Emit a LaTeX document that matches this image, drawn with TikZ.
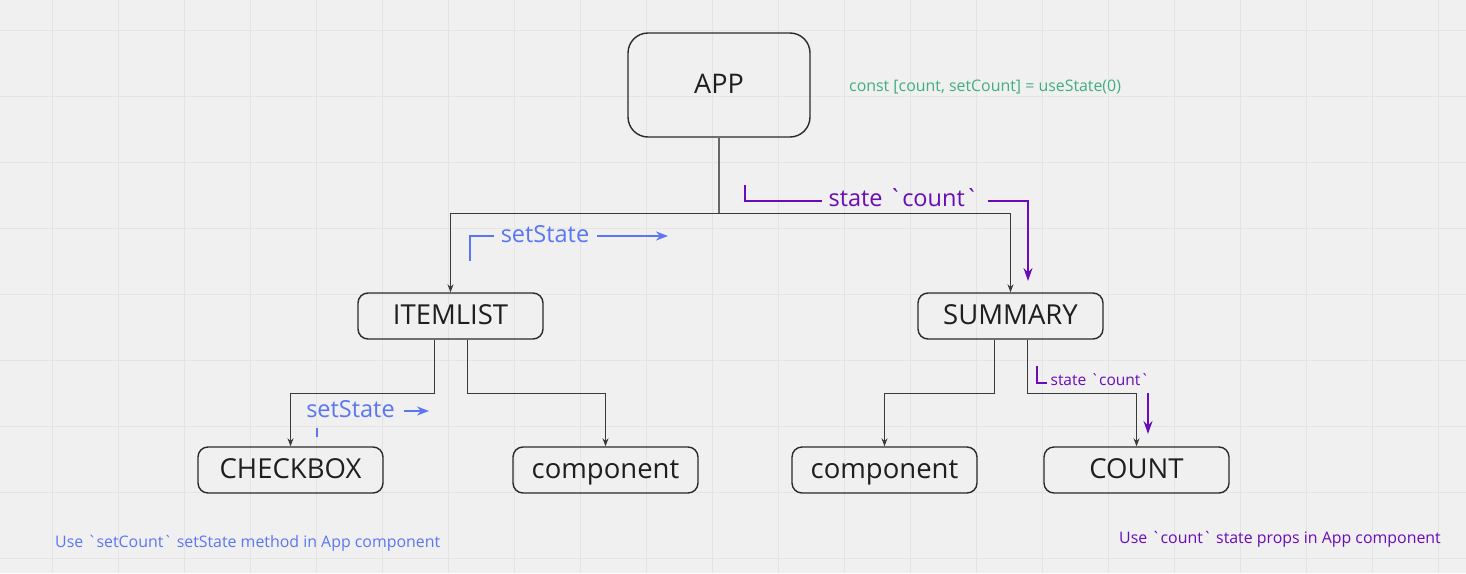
\documentclass[tikz,border=0pt]{standalone}
\usepackage{fontspec}
\setmainfont{Open Sans}[Ligatures=TeXOff]
\usetikzlibrary{arrows.meta}
\definecolor{bg}{HTML}{F0F0F0}
\definecolor{gridc}{HTML}{E4E4E4}
\definecolor{boxc}{HTML}{2A2A2A}
\definecolor{connc}{HTML}{3A3A3A}
\definecolor{greenc}{HTML}{3FAE80}
\definecolor{bluec}{HTML}{5B76F2}
\definecolor{purc}{HTML}{6A0CB8}
\tikzset{
  bigbox/.style={draw=boxc, line width=1.4pt, rounded corners=20pt, minimum width=182pt, minimum height=104pt, inner sep=0pt, text height=20pt, text depth=4pt, font=\fontsize{27}{30}\selectfont, text=black!88},
  compbox/.style={draw=boxc, line width=1.4pt, rounded corners=10pt, minimum width=185pt, minimum height=46pt, inner sep=0pt, text height=20pt, text depth=4pt, font=\fontsize{27.5}{30}\selectfont, text=black!88},
  conn/.style={draw=connc, line width=1pt, -{Stealth[length=8pt,width=6pt]}},
  trunk/.style={draw=black!60, line width=1.6pt},
  purline/.style={draw=purc, line width=2pt},
  purarrow/.style={draw=purc, line width=2pt, -{Stealth[length=13pt,width=9pt]}},
  blueline/.style={draw=bluec, line width=2pt},
  bluearrow/.style={draw=bluec, line width=2pt, -{Stealth[length=12pt,width=9pt]}},
  biglbl/.style={inner sep=0pt, font=\fontsize{23.5}{26}\selectfont},
  smalllbl/.style={inner sep=0pt, font=\fontsize{15.5}{18}\selectfont},
  note/.style={inner sep=0pt, anchor=west, font=\fontsize{15.9}{18}\selectfont}
}
\begin{document}
\begin{tikzpicture}[x=1pt,y=-1pt]
\fill[bg] (0,0) rectangle (1466,573);
\useasboundingbox (0,0) rectangle (1466,573);
% grid
\foreach \gx in {52,118,...,1450} {\draw[gridc, line width=1pt] (\gx,0) -- (\gx,573);}
\foreach \gy in {30,96,...,573} {\draw[gridc, line width=1pt] (0,\gy) -- (1466,\gy);}

% boxes
\node[bigbox] (app) at (719,85) {APP};
\node[compbox] (itemlist) at (450.5,316) {ITEMLIST};
\node[compbox] (summary) at (1010.5,316) {SUMMARY};
\node[compbox] (checkbox) at (290.5,470) {CHECKBOX};
\node[compbox] (comp1) at (605.5,470) {component};
\node[compbox] (comp2) at (884.5,470) {component};
\node[compbox] (count) at (1136.5,470) {COUNT};

% tree connectors
\draw[trunk] (app.south) -- ++(0,76) coordinate (junc);
\draw[conn] (junc) -| (itemlist.north);
\draw[conn] (junc) -| (summary.north);
\draw[conn] ([xshift=-16.5pt]itemlist.south) -- ++(0,54) -| (checkbox.north);
\draw[conn] ([xshift=16.5pt]itemlist.south) -- ++(0,54) -| (comp1.north);
\draw[conn] ([xshift=-16.5pt]summary.south) -- ++(0,54) -| (comp2.north);
\draw[conn] ([xshift=16.5pt]summary.south) -- ++(0,54) -| (count.north);

% green note
\node[note, text=greenc] (code) at (849,86.5) {const [count, setCount] = useState(0)};

% purple big state label
\node[biglbl, text=purc] (st1) at (903.5,198) {state `count`};
\coordinate (p1s) at (745,185);
\coordinate (p1e) at (1028,281);
\draw[purline] (p1s) |- ([xshift=-6pt,yshift=-3pt]st1.west);
\draw[purarrow] ([xshift=9pt,yshift=-3pt]st1.east) -| (p1e);

% blue setState upper
\node[biglbl, text=bluec] (ss1) at (545,234) {setState};
\coordinate (b1s) at (470,261);
\coordinate (b1e) at (668,236);
\draw[blueline] (b1s) |- ([xshift=-7pt,yshift=-2pt]ss1.west);
\draw[bluearrow] ([xshift=8pt,yshift=-2pt]ss1.east) -- (b1e);

% blue setState lower
\node[biglbl, text=bluec] (ss2) at (350.5,409) {setState};
\coordinate (b2e) at (429,411);
\draw[bluearrow] ([xshift=9pt,yshift=-2pt]ss2.east) -- (b2e);
\coordinate (t1) at (316.5,428);
\coordinate (t2) at (316.5,437);
\draw[blueline] (t1) -- (t2);

% purple small state label
\node[smalllbl, text=purc] (st2) at (1100,380) {state `count`};
\coordinate (p2s) at (1037,366);
\coordinate (p2c) at (1047,383);
\draw[purline] (p2s) |- (p2c);
\coordinate (p2a) at (1148,393);
\coordinate (p2b) at (1148,434);
\draw[purarrow] (p2a) -- (p2b);

% bottom notes
\node[note, text=bluec] (n1) at (55,543.5) {Use `setCount` setState method in App component};
\node[note, text=purc] (n2) at (1119,539) {Use `count` state props in App component};
\end{tikzpicture}
\end{document}
